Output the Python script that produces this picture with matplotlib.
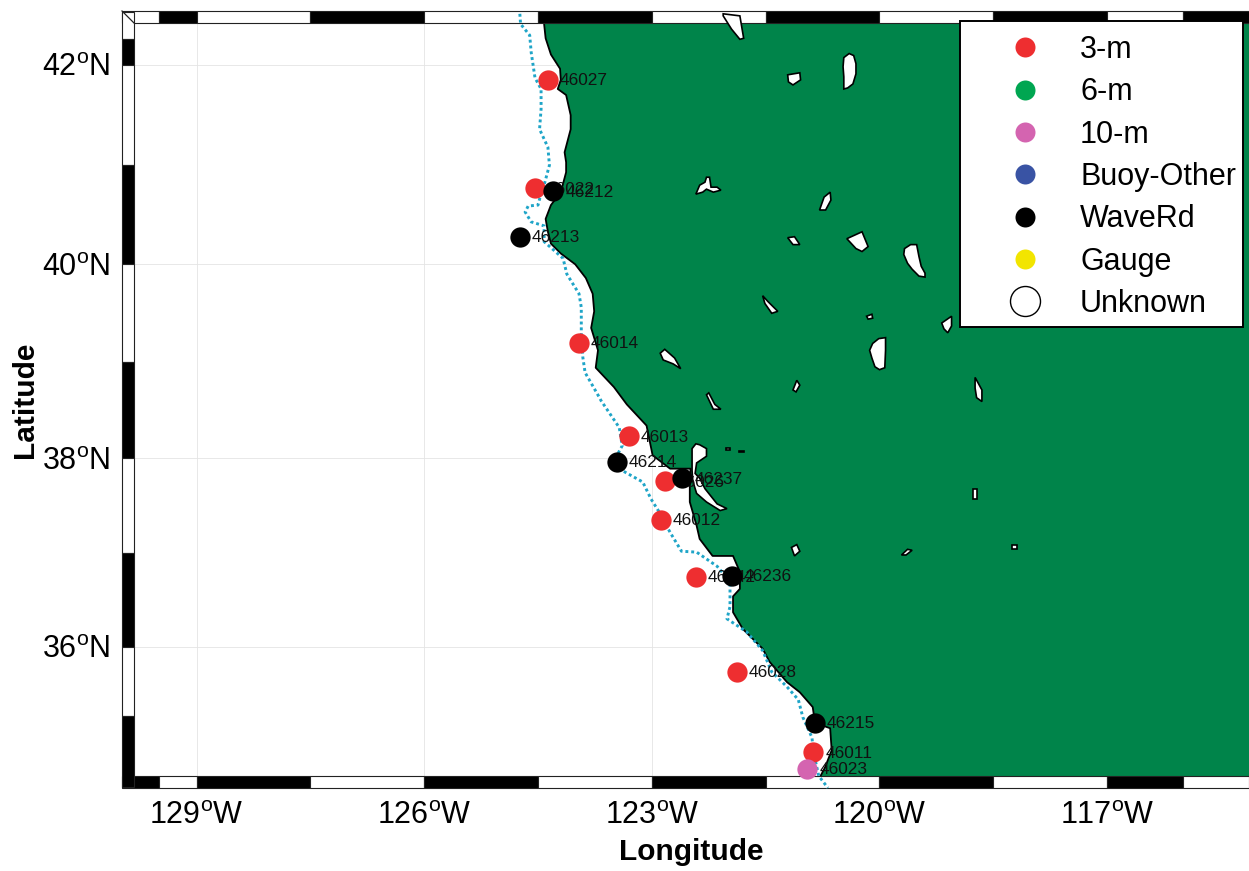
#!/usr/bin/env python3
import numpy as np
import matplotlib
matplotlib.use('Agg')
import matplotlib.pyplot as plt
from matplotlib.lines import Line2D
from matplotlib.patches import Rectangle, Polygon

plt.rcParams['font.family'] = ['Liberation Sans', 'DejaVu Sans']
plt.rcParams['mathtext.fontset'] = 'custom'
plt.rcParams['mathtext.rm'] = 'Liberation Sans'

LAND = '#00844A'
CYAN = '#1FA5C8'

# stations per platform type
IDS_3M = ['46027', '46022', '46014', '46013', '46026', '46012', '46042', '46028', '46011']
LON_3M = [-124.37, -124.54, -123.96, -123.30, -122.83, -122.88, -122.42, -121.88, -120.87]
LAT_3M = [41.85, 40.77, 39.20, 38.23, 37.76, 37.35, 36.75, 35.73, 34.86]

IDS_WAVERD = ['46212', '46213', '46214', '46237', '46236', '46215']
LON_WAVERD = [-124.30, -124.74, -123.46, -122.60, -121.95, -120.85]
LAT_WAVERD = [40.74, 40.28, 37.96, 37.79, 36.76, 35.18]

IDS_10M = ['46023']
LON_10M = [-120.95]
LAT_10M = [34.68]

LEGEND_NAMES = ['3-m', '6-m', '10-m', 'Buoy-Other', 'WaveRd', 'Gauge', 'Unknown']
LEGEND_COLORS = ['#EE2E30', '#00A651', '#D464B0', '#3953A4', 'black', '#F2E500', 'white']

COAST_LON = [-124.42, -124.40, -124.33, -124.21, -124.20, -124.24, -124.13, -124.07, -124.07,
             -124.15, -124.13, -124.13, -124.20, -124.33, -124.40, -124.37, -124.33, -124.20,
             -124.01, -123.87, -123.78, -123.76, -123.80, -123.71, -123.74, -123.50, -123.33,
             -123.07, -122.99, -122.76, -122.49, -122.50, -122.50, -122.41, -122.37, -122.20,
             -121.93, -121.84, -121.84, -121.93, -121.93, -121.80, -121.54, -121.45, -121.22,
             -121.05, -120.88, -120.85, -120.65, -120.63, -120.72, -120.79, -120.72, -120.52]
COAST_LAT = [42.40, 42.26, 42.10, 41.96, 41.85, 41.76, 41.70, 41.50, 41.36,
             41.13, 41.03, 40.93, 40.73, 40.60, 40.46, 40.33, 40.21, 40.11,
             40.00, 39.86, 39.70, 39.52, 39.35, 39.12, 38.94, 38.74, 38.56,
             38.34, 38.03, 37.89, 37.89, 37.75, 37.54, 37.29, 37.15, 36.97,
             36.97, 36.80, 36.62, 36.54, 36.37, 36.19, 35.98, 35.84, 35.62,
             35.51, 35.35, 35.18, 35.12, 34.88, 34.69, 34.58, 34.52, 34.47]

# dotted offshore line
TRACK_LON = [-124.74, -124.73, -124.61, -124.59, -124.54, -124.46, -124.46, -124.48, -124.37,
             -124.35, -124.41, -124.48, -124.50, -124.63, -124.67, -124.59, -124.42, -124.42,
             -124.17, -124.12, -123.96, -123.93, -123.93, -123.91, -123.88, -123.69, -123.67,
             -123.43, -123.39, -123.46, -123.39, -123.12, -123.01, -122.90, -122.76, -122.61,
             -122.41, -122.14, -121.97, -121.97, -122.01, -121.75, -121.54, -121.42, -121.22,
             -121.07, -121.01, -120.89, -120.87, -120.80, -120.68]
TRACK_LAT = [42.50, 42.40, 42.29, 42.12, 41.87, 41.76, 41.56, 41.36, 41.18,
             41.00, 40.83, 40.66, 40.60, 40.59, 40.53, 40.43, 40.39, 40.23,
             40.06, 39.90, 39.70, 39.56, 39.29, 39.05, 38.89, 38.63, 38.60,
             38.32, 38.13, 38.03, 37.87, 37.75, 37.57, 37.43, 37.22, 37.02,
             37.01, 36.86, 36.70, 36.43, 36.30, 36.16, 35.96, 35.73, 35.57,
             35.43, 35.24, 35.02, 34.86, 34.60, 34.47]

BAY_LON = [-122.47, -122.42, -122.37, -122.28, -122.28, -122.41, -122.43, -122.37, -122.30, -122.14,
           -122.01, -122.10, -122.28, -122.41, -122.46, -122.47, -122.47]
BAY_LAT = [38.10, 38.15, 38.14, 38.10, 38.02, 37.95, 37.84, 37.79, 37.68, 37.52,
           37.47, 37.45, 37.54, 37.63, 37.76, 37.87, 38.00]

# inland lakes, (lons, lats)
LAKES = [
    ([-122.06, -121.84, -121.79, -121.84, -121.95, -122.06], [42.50, 42.48, 42.26, 42.25, 42.35, 42.48]),
    ([-120.48, -120.47, -120.40, -120.34, -120.31, -120.31, -120.35, -120.42, -120.47, -120.47],
     [41.98, 42.07, 42.11, 42.09, 42.01, 41.91, 41.81, 41.77, 41.76, 41.88]),
    ([-121.21, -121.05, -121.04, -121.14, -121.20], [41.90, 41.92, 41.85, 41.80, 41.83]),
    ([-122.42, -122.37, -122.30, -122.28, -122.24, -122.22, -122.14, -122.09, -122.19, -122.28, -122.33],
     [40.71, 40.80, 40.83, 40.88, 40.88, 40.78, 40.78, 40.75, 40.73, 40.76, 40.73]),
    ([-120.79, -120.73, -120.65, -120.64, -120.71], [40.55, 40.68, 40.73, 40.65, 40.55]),
    ([-121.21, -121.12, -121.05, -121.14], [40.27, 40.28, 40.20, 40.20]),
    ([-120.43, -120.23, -120.15, -120.23, -120.31], [40.26, 40.33, 40.18, 40.13, 40.16]),
    ([-119.68, -119.67, -119.59, -119.51, -119.48, -119.45, -119.40, -119.40, -119.48, -119.57, -119.63],
     [40.10, 40.16, 40.20, 40.20, 40.08, 39.98, 39.91, 39.87, 39.88, 39.95, 40.01]),
    ([-121.54, -121.47, -121.34, -121.42, -121.51], [39.68, 39.62, 39.52, 39.50, 39.60]),
    ([-120.17, -120.10, -120.09, -120.15], [39.47, 39.49, 39.45, 39.44]),
    ([-119.18, -119.05, -119.05, -119.10, -119.15], [39.40, 39.47, 39.37, 39.30, 39.34]),
    ([-120.13, -120.09, -120.01, -119.92, -119.92, -119.93, -120.00, -120.06, -120.10],
     [39.12, 39.19, 39.24, 39.25, 39.12, 38.94, 38.92, 38.95, 39.04]),
    ([-122.89, -122.83, -122.70, -122.62, -122.72, -122.85], [39.09, 39.13, 39.04, 38.93, 38.98, 39.02]),
    ([-121.14, -121.09, -121.05, -121.10], [38.71, 38.81, 38.76, 38.69]),
    ([-122.28, -122.25, -122.17, -122.09, -122.19], [38.66, 38.68, 38.56, 38.51, 38.51]),
    ([-118.74, -118.65, -118.65, -118.72, -118.74], [38.84, 38.71, 38.59, 38.63, 38.73]),
    ([-121.16, -121.09, -121.05, -121.12], [37.06, 37.09, 37.02, 36.97]),
    ([-119.71, -119.63, -119.57, -119.65], [36.98, 37.04, 37.03, 36.98]),
    ([-118.26, -118.19, -118.19, -118.26], [37.09, 37.09, 37.04, 37.04]),
    ([-118.77, -118.71, -118.71, -118.77], [37.68, 37.68, 37.57, 37.57]),
    ([-122.02, -121.97, -121.97, -122.02], [38.11, 38.11, 38.09, 38.09]),
    ([-121.85, -121.78, -121.78, -121.85], [38.08, 38.08, 38.06, 38.06]),
]

LON_TICKS = [-129, -126, -123, -120, -117]
LAT_TICKS = [36, 38, 40, 42]
GRID_LON = LON_TICKS
GRID_LAT = LAT_TICKS

# checker frame edges
TOP_EDGES = [-129.98, -129.5, -129, -127.5, -126, -124.5, -123, -121.5, -120, -118.5, -117, -116, -115.13]
LEFT_EDGES = [42.52, 42.25, 42, 41, 40, 39, 38, 37, 36, 35.25, 34.48]


def merc(lat):
    return np.arcsinh(np.tan(np.radians(lat)))


def merc_inv(m):
    return np.degrees(np.arctan(np.sinh(m)))


fig = plt.figure(figsize=(12.49, 8.71), dpi=100)
ax = fig.add_axes([134 / 1249, 95 / 871, 1115 / 1249, 753 / 871])
ax.set_yscale('function', functions=(merc, merc_inv))
ax.set_xlim(-129.825, -115.13)
ax.set_ylim(34.6, 42.41)

for x in GRID_LON:
    ax.axvline(x, color='#e4e4e4', lw=0.6, zorder=1)
for y in GRID_LAT:
    ax.axhline(y, color='#e4e4e4', lw=0.6, zorder=1)

land_x = COAST_LON + [-115, -115, COAST_LON[0]]
land_y = COAST_LAT + [34.47, 42.5, 42.5]
ax.add_patch(Polygon(np.column_stack([land_x, land_y]), closed=True, fc=LAND, ec='none', zorder=1.5))
ax.plot(COAST_LON, COAST_LAT, color='black', lw=1.3, zorder=1.7, clip_on=False)

ax.add_patch(Polygon(np.column_stack([BAY_LON, BAY_LAT]), closed=True, fc='white', ec='black', lw=1.2, zorder=1.8))
for lons, lats in LAKES:
    ax.add_patch(Polygon(np.column_stack([lons, lats]), closed=True, fc='white', ec='black',
                         lw=1.2, zorder=3.5, clip_on=False))

# checker bars around the map
bar_h = 12 / 753
bar_w = 12 / 1115
xtrans = ax.get_xaxis_transform()
ytrans = ax.get_yaxis_transform()
for i in range(len(TOP_EDGES) - 1):
    x0, x1 = TOP_EDGES[i], TOP_EDGES[i + 1]
    top_col = 'white' if i % 2 == 0 else 'black'
    bot_col = 'black' if i % 2 == 0 else 'white'
    ax.add_patch(Rectangle((x0, 1), x1 - x0, bar_h, transform=xtrans, fc=top_col, ec='#222222',
                           lw=0.8, zorder=3, clip_on=False))
    ax.add_patch(Rectangle((x0, -bar_h), x1 - x0, bar_h, transform=xtrans, fc=bot_col, ec='#222222',
                           lw=0.8, zorder=3, clip_on=False))
for i in range(len(LEFT_EDGES) - 1):
    y0, y1 = LEFT_EDGES[i + 1], LEFT_EDGES[i]
    col = 'white' if i % 2 == 0 else 'black'
    ax.add_patch(Rectangle((-bar_w, y0), bar_w, y1 - y0, transform=ytrans, fc=col, ec='#222222',
                           lw=0.8, zorder=3.1, clip_on=False))
ax.plot([-bar_w, 0], [1 + bar_h, 1], transform=ax.transAxes, color='#222222', lw=0.9, zorder=3.2, clip_on=False)

ax.plot(TRACK_LON, TRACK_LAT, color=CYAN, lw=2.1, ls=(0, (1, 1)), zorder=3.6, clip_on=False)

GROUPS = [(IDS_3M, LON_3M, LAT_3M, LEGEND_COLORS[0]),
          (IDS_WAVERD, LON_WAVERD, LAT_WAVERD, LEGEND_COLORS[4]),
          (IDS_10M, LON_10M, LAT_10M, LEGEND_COLORS[2])]
for ids, lons, lats, col in GROUPS:
    for sid, lon, lat in zip(ids, lons, lats):
        ax.plot([lon], [lat], marker='o', ms=14.6, mfc=col, mec='none', ls='none', zorder=4, clip_on=False)
        ax.annotate(sid, (lon, lat), xytext=(8.6, -0.7), textcoords='offset points', va='center', ha='left',
                    fontsize=12.4, color='#111111', zorder=4, annotation_clip=False)

ax.set_xticks(LON_TICKS)
ax.set_xticklabels([f'{abs(v)}$^{{\\mathrm{{o}}}}$W' for v in LON_TICKS], fontsize=22)
ax.set_yticks(LAT_TICKS)
ax.set_yticklabels([f'{v}$^{{\\mathrm{{o}}}}$N' for v in LAT_TICKS], fontsize=22)
ax.minorticks_off()
ax.tick_params(length=0)
ax.tick_params(axis='x', pad=18)
ax.tick_params(axis='y', pad=17)
ax.set_xlabel('Longitude', fontsize=21.5, fontweight='bold', labelpad=5)
ax.set_ylabel('Latitude', fontsize=21.5, fontweight='bold', labelpad=2.4)
for s in ax.spines.values():
    s.set_visible(False)

# legend box drawn on its own so its size can follow the reference
ax.add_patch(Rectangle((826 / 1115, 449 / 753), 283 / 1115, 306 / 753, transform=ax.transAxes, fc='white',
                       ec='black', lw=1.4, zorder=9, clip_on=False))
handles = []
for name, col in zip(LEGEND_NAMES, LEGEND_COLORS):
    if name == 'Unknown':
        handles.append(Line2D([], [], marker='o', ls='none', ms=21.6, mfc='white', mec='black', mew=1))
    else:
        handles.append(Line2D([], [], marker='o', ls='none', ms=14.4, mfc=col, mec='none'))
leg = ax.legend(handles, LEGEND_NAMES, loc='upper left', bbox_to_anchor=(826 / 1115, 753 / 753),
                borderaxespad=0, fontsize=22, frameon=False, borderpad=0.39, handlelength=3.47,
                handletextpad=0.07, labelspacing=0.405, numpoints=1)
leg.set_zorder(10)

fig.savefig('out.png', dpi=100)
